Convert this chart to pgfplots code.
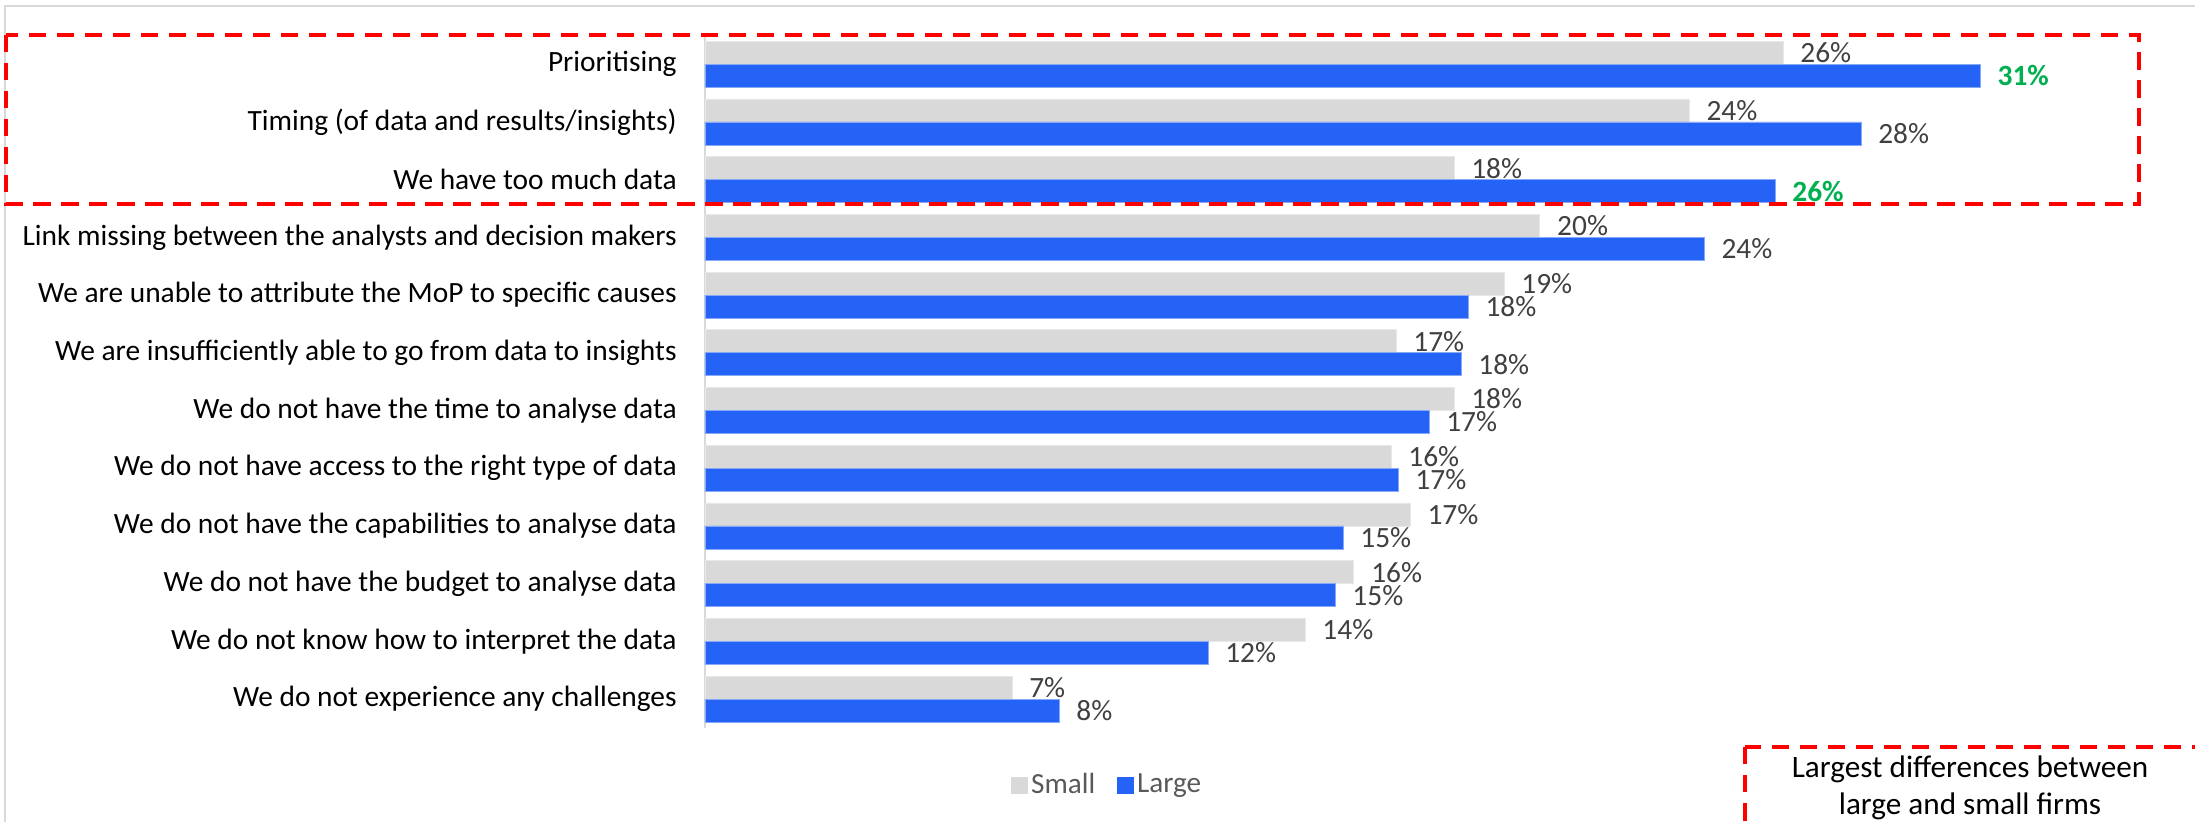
\documentclass[border=0pt]{standalone}
\usepackage{fontspec}
\setmainfont{Carlito}
\usepackage{pgfplots}
\pgfplotsset{compat=1.18}
\definecolor{smallgray}{HTML}{D9D9D9}
\definecolor{largeblue}{HTML}{2463F5}
\definecolor{labgray}{HTML}{404040}
\definecolor{legendgray}{HTML}{595959}
\definecolor{labgreen}{HTML}{00B050}
\definecolor{boxred}{HTML}{FF0000}
\definecolor{framegray}{HTML}{D9D9D9}
\begin{document}
\begin{tikzpicture}[x=0.5pt,y=-0.5pt]
\useasboundingbox (0,0) rectangle (2195,822);
\begin{scope}
\clip (0,0) rectangle (2195,822);
\draw[framegray, line width=1pt] (4.5,6) rectangle (2300,900);
\end{scope}
\begin{axis}[
  at={(352.5pt,-364pt)}, anchor=south west,
  scale only axis, width=729.75pt, height=346.3pt,
  xbar, xmin=0, xmax=35, ymin=-0.5, ymax=11.5, y dir=reverse,
  bar width=11.5pt,
  /pgf/number format/assume math mode=true,
  axis x line=none,
  axis y line*=left,
  y axis line style={framegray, line width=0.75pt, -},
  ytick={0,...,11},
  yticklabels={Prioritising,
    Timing (of data and results/insights),
    We have too much data,
    Link missing between the analysts and decision makers,
    We are unable to attribute the MoP to specific causes,
    We are insufficiently able to go from data to insights,
    We do not have the time to analyse data,
    We do not have access to the right type of data,
    We do not have the capabilities to analyse data,
    We do not have the budget to analyse data,
    We do not know how to interpret the data,
    We do not experience any challenges},
  major tick length=0pt,
  yticklabel style={font=\fontsize{14.7}{17}\selectfont, anchor=east, inner sep=0pt, xshift=-14pt, text=black},
  legend style={at={(0.276,-0.0823)}, anchor=center, draw=none, fill=none,
    font=\fontsize{14.6}{17}\selectfont, text=legendgray,
    /tikz/every even column/.append style={column sep=9pt},
    inner sep=0pt, nodes={inner sep=1.75pt}},
  legend columns=2,
  clip=false,
]
\addplot[fill=smallgray, draw=smallgray!60!white, line width=0.4pt, bar shift=5.75pt,
  nodes near coords={\pgfmathprintnumber[fixed,precision=0]{\pgfplotspointmeta}\%},
  every node near coord/.append style={anchor=west, inner sep=0pt, xshift=8.5pt,
    font=\fontsize{14.7}{17}\selectfont, text=labgray},
  legend image code/.code={\fill[smallgray] (-2pt,-4pt) rectangle (6pt,4pt);}]
coordinates {(25.85,0) (23.60,1) (17.96,2) (20.02,3) (19.16,4) (16.57,5) (17.96,6) (16.45,7) (16.91,8) (15.56,9) (14.39,10) (7.36,11)};
\addlegendentry{Small}
\addplot[fill=largeblue, draw=largeblue!55!white, line width=0.4pt, bar shift=-5.75pt,
  visualization depends on={value \coordindex \as \myidx},
  nodes near coords={\ifnum\myidx=0 \color{labgreen}\bfseries\fi\ifnum\myidx=2 \color{labgreen}\bfseries\fi\pgfmathprintnumber[fixed,precision=0]{\pgfplotspointmeta}\%},
  every node near coord/.append style={anchor=west, inner sep=0pt, xshift=8.5pt,
    font=\fontsize{14.7}{17}\selectfont, text=labgray},
  legend image code/.code={\fill[largeblue] (-2pt,-4pt) rectangle (6pt,4pt);}]
coordinates {(30.58,0) (27.72,1) (25.66,2) (23.96,3) (18.30,4) (18.13,5) (17.36,6) (16.62,7) (15.30,8) (15.11,9) (12.06,10) (8.49,11)};
\addlegendentry{Large}
\end{axis}
\begin{scope}
\clip (0,0) rectangle (2195,822);
\draw[boxred, line width=2pt, dash pattern=on 8.75pt off 5.25pt] (6,35) rectangle (2139,204);
\draw[boxred, line width=2pt, dash pattern=on 8.75pt off 5.25pt] (1745,747) rectangle (2300,900);
\end{scope}
\node[align=center, font=\fontsize{15.6}{18.5}\selectfont, text=black] at (1970,788) {Largest differences between\\large and small firms};
\end{tikzpicture}
\end{document}
